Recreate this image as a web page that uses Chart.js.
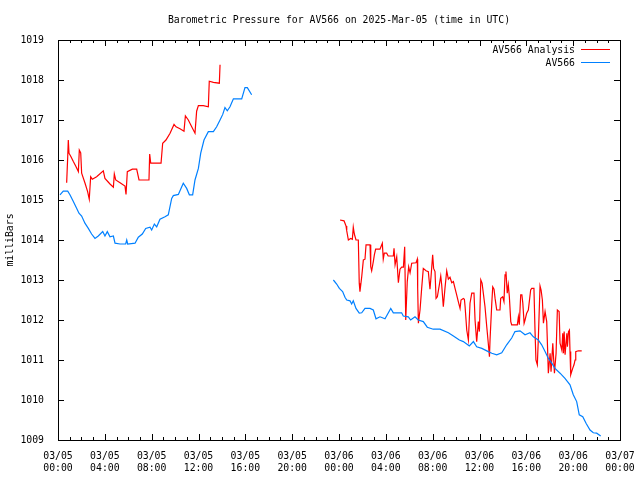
<!DOCTYPE html>
<html>
<head>
<meta charset="utf-8">
<script src="https://cdn.jsdelivr.net/npm/chart.js@4"></script>
<style>
  body { margin: 0; background: #fff; }
  canvas { display: block; }
</style>
</head>
<body>
<canvas id="chart" width="640" height="480"></canvas>
<script>
(function () {
    "use strict";

    // hours since 03/05 00:00 UTC
    const analysisTimes1 = [0.74, 0.83, 0.88, 0.94, 1.11, 1.31, 1.51, 1.74, 1.82, 1.94, 2.02, 2.31, 2.53, 2.67, 2.79, 2.93, 3.30, 3.87, 4.01, 4.44, 4.73, 4.81, 4.93, 5.30, 5.72, 5.81, 5.92, 6.35, 6.72, 6.92, 7.77, 7.83, 7.92, 8.80, 8.94, 9.22, 9.57, 9.91, 10.08, 10.42, 10.76, 10.88, 11.13, 11.42, 11.70, 11.84, 11.99, 12.41, 12.84, 12.92, 13.27, 13.78, 13.84, 13.92];
    const analysisValues1 = [1015.43, 1016.08, 1016.50, 1016.17, 1016.08, 1015.96, 1015.85, 1015.71, 1016.25, 1016.18, 1015.67, 1015.42, 1015.21, 1015.02, 1015.58, 1015.52, 1015.58, 1015.73, 1015.54, 1015.40, 1015.32, 1015.65, 1015.50, 1015.43, 1015.35, 1015.14, 1015.71, 1015.77, 1015.77, 1015.50, 1015.50, 1016.15, 1015.92, 1015.92, 1016.42, 1016.50, 1016.67, 1016.89, 1016.83, 1016.78, 1016.72, 1017.10, 1017.00, 1016.83, 1016.67, 1017.22, 1017.36, 1017.36, 1017.33, 1017.97, 1017.94, 1017.92, 1018.38, 1018.38];

    const analysisTimes2 = [24.09, 24.43, 24.60, 24.66, 24.80, 25.00, 25.14, 25.22, 25.31, 25.45, 25.65, 25.73, 25.79, 25.94, 26.08, 26.22, 26.31, 26.65, 26.71, 26.79, 26.93, 27.02, 27.13, 27.50, 27.70, 27.78, 27.87, 28.07, 28.20, 28.64, 28.70, 28.79, 28.93, 29.07, 29.21, 29.35, 29.50, 29.61, 29.70, 29.83, 29.95, 30.07, 30.21, 30.58, 30.69, 30.72, 30.78, 30.92, 31.06, 31.20, 31.43, 31.63, 31.77, 31.86, 32.00, 32.08, 32.20, 32.29, 32.40, 32.57, 32.69, 32.77, 32.91, 33.05, 33.20, 33.34, 33.48, 33.63, 33.77, 33.91, 34.05, 34.19, 34.34, 34.42, 34.62, 34.71, 34.77, 34.91, 35.05, 35.19, 35.34, 35.53, 35.62, 35.76, 35.90, 35.99, 36.11, 36.22, 36.47, 36.62, 36.75, 36.85, 36.90, 37.05, 37.13, 37.24, 37.33, 37.47, 37.75, 37.81, 37.98, 38.09, 38.18, 38.26, 38.37, 38.46, 38.55, 38.67, 38.75, 39.23, 39.32, 39.40, 39.52, 39.62, 39.70, 39.81, 39.89, 40.03, 40.17, 40.37, 40.46, 40.65, 40.74, 40.82, 40.94, 41.03, 41.17, 41.26, 41.37, 41.46, 41.60, 41.74, 41.80, 41.88, 42.03, 42.11, 42.26, 42.40, 42.54, 42.65, 42.80, 42.88, 43.03, 43.11, 43.17, 43.23, 43.31, 43.46, 43.51, 43.60, 43.68, 43.73, 43.79, 43.96, 44.07, 44.16, 44.22, 44.44, 44.73];
    const analysisValues2 = [1014.50, 1014.48, 1014.35, 1014.23, 1014.00, 1014.04, 1014.02, 1014.32, 1014.15, 1014.00, 1014.00, 1012.92, 1012.71, 1013.08, 1013.50, 1013.52, 1013.88, 1013.88, 1013.33, 1013.23, 1013.46, 1013.63, 1013.77, 1013.77, 1013.92, 1013.52, 1013.67, 1013.67, 1013.60, 1013.60, 1013.79, 1013.38, 1013.58, 1012.93, 1013.27, 1013.32, 1013.32, 1013.83, 1012.00, 1012.96, 1013.33, 1013.18, 1013.42, 1013.43, 1013.52, 1012.79, 1011.92, 1012.25, 1012.79, 1013.29, 1013.23, 1013.21, 1012.77, 1013.08, 1013.63, 1013.29, 1013.21, 1012.54, 1012.58, 1012.88, 1013.10, 1012.88, 1012.33, 1012.79, 1013.23, 1013.02, 1013.07, 1012.93, 1012.96, 1012.79, 1012.63, 1012.46, 1012.29, 1012.50, 1012.54, 1012.52, 1012.33, 1011.75, 1011.50, 1012.42, 1012.67, 1012.67, 1012.00, 1011.46, 1011.96, 1011.71, 1013.00, 1012.92, 1012.33, 1011.83, 1011.42, 1011.08, 1011.50, 1012.42, 1012.83, 1012.77, 1012.54, 1012.25, 1012.25, 1012.54, 1012.58, 1012.46, 1013.13, 1013.21, 1012.67, 1012.88, 1012.58, 1011.96, 1011.88, 1011.88, 1012.08, 1011.88, 1012.63, 1012.63, 1012.42, 1011.92, 1012.00, 1012.17, 1012.25, 1012.75, 1012.79, 1012.79, 1011.75, 1011.00, 1010.88, 1011.58, 1012.85, 1012.75, 1012.50, 1011.92, 1012.21, 1011.96, 1011.42, 1010.67, 1011.17, 1010.71, 1011.42, 1010.67, 1011.17, 1012.25, 1012.21, 1011.42, 1011.25, 1011.67, 1011.17, 1011.71, 1011.13, 1011.67, 1011.33, 1011.71, 1011.75, 1011.21, 1010.63, 1010.79, 1010.88, 1011.00, 1011.21, 1011.23, 1011.23];

    const stationTimes1 = [0.17, 0.45, 0.83, 1.02, 1.31, 1.60, 1.79, 2.02, 2.30, 2.59, 2.87, 3.16, 3.44, 3.82, 4.01, 4.21, 4.44, 4.73, 4.87, 5.30, 5.78, 5.87, 5.95, 6.58, 6.86, 7.20, 7.49, 7.86, 8.00, 8.23, 8.43, 8.71, 9.14, 9.42, 9.71, 9.85, 10.28, 10.70, 10.99, 11.22, 11.50, 11.70, 11.99, 12.19, 12.47, 12.84, 13.27, 13.55, 13.84, 14.07, 14.26, 14.46, 14.69, 14.98, 15.69, 15.97, 16.17, 16.54];
    const stationValues1 = [1015.13, 1015.22, 1015.22, 1015.13, 1014.96, 1014.79, 1014.67, 1014.60, 1014.42, 1014.29, 1014.15, 1014.04, 1014.10, 1014.21, 1014.10, 1014.21, 1014.08, 1014.10, 1013.92, 1013.90, 1013.90, 1014.00, 1013.90, 1013.92, 1014.07, 1014.15, 1014.29, 1014.32, 1014.25, 1014.40, 1014.33, 1014.52, 1014.58, 1014.63, 1015.04, 1015.11, 1015.14, 1015.42, 1015.29, 1015.13, 1015.13, 1015.50, 1015.79, 1016.17, 1016.50, 1016.71, 1016.71, 1016.83, 1017.00, 1017.14, 1017.31, 1017.23, 1017.33, 1017.53, 1017.53, 1017.81, 1017.81, 1017.63];

    const stationTimes2 = [23.52, 23.80, 24.03, 24.31, 24.51, 24.66, 24.94, 25.08, 25.22, 25.45, 25.73, 25.94, 26.22, 26.65, 26.93, 27.16, 27.50, 27.93, 28.42, 28.64, 29.35, 29.49, 29.92, 30.12, 30.49, 30.77, 31.20, 31.54, 32.05, 32.63, 33.34, 33.77, 34.28, 34.62, 35.13, 35.48, 35.76, 36.20, 36.75, 37.05, 37.47, 37.90, 38.32, 38.75, 39.03, 39.46, 39.89, 40.31, 40.60, 41.02, 41.31, 41.60, 41.88, 42.17, 42.45, 42.88, 43.30, 43.73, 44.01, 44.30, 44.52, 44.82, 45.10, 45.44, 45.72, 46.01, 46.35];
    const stationValues2 = [1013.00, 1012.90, 1012.79, 1012.71, 1012.57, 1012.50, 1012.48, 1012.40, 1012.48, 1012.29, 1012.17, 1012.18, 1012.29, 1012.29, 1012.25, 1012.03, 1012.08, 1012.03, 1012.29, 1012.18, 1012.18, 1012.10, 1012.08, 1012.00, 1012.08, 1012.00, 1011.96, 1011.82, 1011.77, 1011.77, 1011.68, 1011.60, 1011.50, 1011.46, 1011.35, 1011.46, 1011.33, 1011.29, 1011.21, 1011.17, 1011.13, 1011.18, 1011.38, 1011.55, 1011.71, 1011.73, 1011.63, 1011.68, 1011.58, 1011.50, 1011.38, 1011.21, 1011.04, 1010.92, 1010.79, 1010.67, 1010.54, 1010.38, 1010.13, 1009.96, 1009.63, 1009.58, 1009.42, 1009.25, 1009.18, 1009.17, 1009.10];

    const seriesNames = ["AV566 Analysis", "AV566"];
    const seriesColors = ["#ff0000", "#0080ff"];

    const FONT = { family: "'DejaVu Sans Mono', monospace", size: 9.8, lineHeight: "12px" };

    // join segments with a null point so the line breaks at the data gap
    const toPoints = (segments) => {
        const pts = [];
        segments.forEach(([ts, vs], i) => {
            if (i > 0) pts.push({ x: (pts[pts.length - 1].x + ts[0]) / 2, y: null });
            ts.forEach((t, j) => pts.push({ x: t, y: vs[j] }));
        });
        return pts;
    };

    const pad2 = (n) => String(n).padStart(2, "0");

    const bgPlugin = {
        id: "bg",
        beforeDraw(chart) {
            const c = chart.ctx;
            c.save();
            c.fillStyle = "#fff";
            c.fillRect(0, 0, chart.width, chart.height);
            c.restore();
        },
    };

    // gnuplot style frame: border with inward ticks on all four sides
    const framePlugin = {
        id: "frame",
        afterDraw(chart) {
            const c = chart.ctx;
            const a = chart.chartArea;
            const xs = chart.scales.x;
            const ys = chart.scales.y;
            c.save();
            c.strokeStyle = "#000";
            c.lineWidth = 1;
            c.beginPath();
            for (let h = xs.min; h <= xs.max; h++) {
                const px = Math.round(xs.getPixelForValue(h)) + 0.5;
                const len = h % 4 === 0 ? 6 : 3;
                c.moveTo(px, a.bottom);
                c.lineTo(px, a.bottom - len);
                c.moveTo(px, a.top);
                c.lineTo(px, a.top + len);
            }
            ys.ticks.forEach((t) => {
                const py = Math.round(ys.getPixelForValue(t.value)) + 0.5;
                c.moveTo(a.left, py);
                c.lineTo(a.left + 6, py);
                c.moveTo(a.right, py);
                c.lineTo(a.right - 6, py);
            });
            c.stroke();
            c.strokeRect(Math.round(a.left) + 0.5, Math.round(a.top) + 0.5,
                Math.round(a.right - a.left), Math.round(a.bottom - a.top));

            // legend, top right inside the frame
            c.font = FONT.size + "px " + FONT.family;
            c.textAlign = "right";
            c.textBaseline = "middle";
            chart.data.datasets.forEach((ds, i) => {
                const y = a.top + 10 + i * 13;
                c.fillStyle = "#000";
                c.fillText(ds.label, a.right - 45, y);
                c.strokeStyle = ds.borderColor;
                c.beginPath();
                c.moveTo(a.right - 39, y - 0.5);
                c.lineTo(a.right - 10, y - 0.5);
                c.stroke();
            });
            c.restore();
        },
    };

    const ctx = document.getElementById("chart").getContext("2d");
    new Chart(ctx, {
        type: "line",
        data: {
            datasets: [
                {
                    label: seriesNames[0],
                    data: toPoints([[analysisTimes1, analysisValues1], [analysisTimes2, analysisValues2]]),
                    borderColor: seriesColors[0],
                    order: 2,
                },
                {
                    label: seriesNames[1],
                    data: toPoints([[stationTimes1, stationValues1], [stationTimes2, stationValues2]]),
                    borderColor: seriesColors[1],
                    order: 1,
                },
            ],
        },
        options: {
            responsive: false,
            animation: false,
            devicePixelRatio: 1,
            spanGaps: false,
            elements: {
                line: { borderWidth: 1.2, tension: 0 },
                point: { radius: 0 },
            },
            layout: { padding: { right: 20 } },
            scales: {
                x: {
                    type: "linear",
                    min: 0,
                    max: 48,
                    grid: { display: false },
                    border: { display: false },
                    ticks: {
                        stepSize: 4,
                        autoSkip: false,
                        maxRotation: 0,
                        padding: 2,
                        color: "#000",
                        font: FONT,
                        callback: (v) => ["03/" + pad2(5 + Math.floor(v / 24)), pad2(v % 24) + ":00"],
                    },
                    afterFit: (scale) => { scale.height = 40; },
                },
                y: {
                    min: 1009,
                    max: 1019,
                    grid: { display: false },
                    border: { display: false },
                    ticks: {
                        stepSize: 1,
                        padding: 6,
                        color: "#000",
                        font: FONT,
                        callback: (v) => String(v),
                    },
                    title: {
                        display: true,
                        text: "milliBars",
                        color: "#000",
                        font: FONT,
                        padding: { top: 4, bottom: 0 },
                    },
                    afterFit: (scale) => { scale.width = 58; },
                },
            },
            plugins: {
                legend: { display: false },
                tooltip: { enabled: false },
                title: {
                    display: true,
                    fullSize: false,
                    text: "Barometric Pressure for AV566 on 2025-Mar-05 (time in UTC)",
                    color: "#000",
                    font: { ...FONT, weight: "normal" },
                    padding: { top: 14, bottom: 14 },
                },
            },
        },
        plugins: [bgPlugin, framePlugin],
    });
})();
</script>
</body>
</html>
